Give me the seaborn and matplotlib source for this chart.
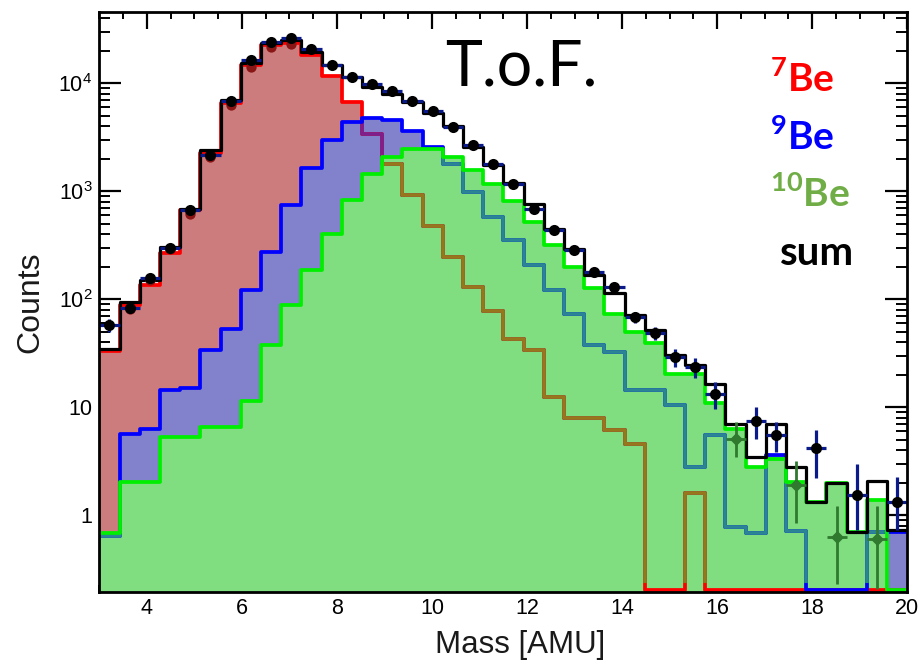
import numpy as np
import matplotlib
matplotlib.use("Agg")
import matplotlib.pyplot as plt
import seaborn as sns
from matplotlib.ticker import FixedLocator, FixedFormatter, MultipleLocator, LogLocator, NullFormatter

# ---------------- data ----------------
x_lo, x_hi, n_bins = 3.0, 20.0, 40

be7 = [33, 88, 135, 268, 667, 2260, 6620, 14700, 22500, 23800,
       18200, 11700, 6720, 3420, 1780, 918, 474, 246, 130, 78,
       43, 33.7, 12.5, 7.9, 7.9, 6.2, 4.6, 0, 0, 1.6,
       0, 0, 0, 0, 0, 0, 0, 0, 0, 0]
be9 = [0.65, 5.7, 6.3, 14.4, 15, 33.7, 53.5, 121, 274, 741,
       1650, 2970, 4385, 4810, 4540, 3600, 2570, 1800, 985, 578,
       352, 206, 121, 73.7, 37.5, 32.5, 14.4, 14.4, 10.6, 2.8,
       5.5, 0.78, 0.69, 3.6, 0.72, 0, 0, 0, 0.70, 0.70]
be10 = [0.68, 2.03, 2.03, 5.3, 5.3, 6.6, 6.6, 11.4, 38, 88,
        186, 405, 826, 1460, 2080, 2480, 2480, 2080, 1560, 1180,
        810, 520, 316, 199, 126, 73.7, 49.8, 39, 20.5, 20.5,
        11, 6.35, 2.8, 3.35, 2.03, 1.33, 1.99, 0.70, 1.38, 0]
total = [35, 94, 150, 305, 690, 2400, 7060, 15500, 23800, 25000,
         19600, 14700, 11450, 9200, 8000, 6720, 5360, 4000, 2570, 1740,
         1200, 769, 451, 295, 167, 114, 71, 51.6, 30.3, 24.5,
         16.6, 6.96, 3.47, 6.96, 2.8, 1.33, 1.99, 0.70, 2.08, 0.73]

nan = np.nan
data = [58, 83, 158, 300, 676, 2150, 6900, 16300, 24200, 26200,
        20800, 14900, 11400, 9750, 8400, 6900, 5500, 3930, 2670, 1780,
        1180, 690, 442, 285, 179, 130, 68.6, 48.7, 29.2, 23.6,
        13.4, nan, 7.5, 5.6, nan, 4.2, nan, 1.53, nan, 1.33]
data_err_lo = [8, 9, 13, 17, 26, 46, 83, 128, 156, 162,
               144, 122, 107, 99, 92, 83, 74, 63, 52, 42,
               34, 26, 21, 17, 13, 11, 8.3, 7, 5.4, 4.9,
               3.7, nan, 2.4, 1.75, nan, 2.0, nan, 0.8, nan, 0.6]
data_err_hi = [8, 9, 13, 17, 26, 46, 83, 128, 156, 162,
               144, 122, 107, 99, 92, 83, 74, 63, 52, 42,
               34, 26, 21, 17, 13, 11, 8.3, 7, 5.4, 4.9,
               3.7, nan, 2.6, 1.7, nan, 1.9, nan, 1.47, nan, 0.93]

# 7Be data points (mostly hidden beneath the black points)
be7_data_bins = [1, 2, 3, 4, 5, 6, 7, 8, 9]
be7_data = [82, 150, 290, 620, 2080, 6320, 14300, 21800, 23100]
# 10Be data points visible at the high-mass end
be10_data_bins = [31, 34, 36, 38]
be10_data = [5.1, 1.9, 0.63, 0.61]
be10_err_lo = [1.65, 1.06, 0.40, 0.40]
be10_err_hi = [2.2, 1.3, 0.60, 0.60]

yticks = [1, 10, 100, 1000, 10000]
ytick_labels = ["1", "10", r"$\mathregular{10^{2}}$", r"$\mathregular{10^{3}}$", r"$\mathregular{10^{4}}$"]
xticks = [4, 6, 8, 10, 12, 14, 16, 18, 20]
xtick_labels = ["4", "6", "8", "10", "12", "14", "16", "18", "20"]

iso_mass = ["7", "9", "10"]
iso_colors = ["#ff0000", "#0000ff", "#70ad47"]

# ---------------- style ----------------
sns.set_style("ticks")
plt.rcParams["font.family"] = ["Liberation Sans", "DejaVu Sans"]
plt.rcParams["mathtext.fontset"] = "custom"
plt.rcParams["mathtext.rm"] = "Lato"
plt.rcParams["mathtext.bf"] = "Lato:bold"
plt.rcParams["text.color"] = "black"
plt.rcParams["axes.labelcolor"] = "black"
plt.rcParams["xtick.color"] = "black"
plt.rcParams["ytick.color"] = "black"

Y_MIN, Y_MAX = 0.195, 46000
RED, BLUE, GREEN = "#ff0000", "#0000ff", "#00ee00"
RED_FILL, BLUE_FILL, GREEN_FILL = "#cc7c7c", "#8282cc", "#80de80"
OLIVE, TEAL, PURPLE = "#97771c", "#2a8494", "#7d1f8c"
NAVY, DKGREEN, DKRED = "#0a1a8a", "#2f7a2f", "#8a1515"
LW = 2.7

edges = np.linspace(x_lo, x_hi, n_bins + 1)
centers = 0.5 * (edges[:-1] + edges[1:])
half_w = 0.5 * (edges[1] - edges[0])
bin_list = [float(e) for e in edges]

fig = plt.figure(figsize=(9.23, 6.65), dpi=100)
L, R, T, B = 99.3, 907.3, 11.7, 592.0
ax = fig.add_axes([L / 923, 1 - B / 665, (R - L) / 923, (B - T) / 665])
ax.set_yscale("log")

floor = Y_MIN * 1.045


def lifted(v):
    v = np.asarray(v, dtype=float)
    return np.where(v > 0, v, floor)


def hist(vals, **kw):
    sns.histplot(x=centers, weights=lifted(vals), bins=bin_list, element="step",
                 ax=ax, legend=False, **kw)


def clip_region(vals):
    base = Y_MIN * 1.2
    top = lifted(vals)
    top = np.maximum(np.append(top, top[-1]), base)
    poly = ax.fill_between(edges, base, top, step="post", alpha=0, linewidth=0)
    return poly.get_paths()[0]


# fills (opaque, in drawing order)
hist(be7, fill=True, color=RED_FILL, alpha=1, linewidth=0, zorder=1.0)
hist(be9, fill=True, color=BLUE_FILL, alpha=1, linewidth=0, zorder=1.1)
hist(be10, fill=True, color=GREEN_FILL, alpha=1, linewidth=0, zorder=1.2)

blue_region = clip_region(be9)
green_region = clip_region(be10)

# 7Be outline: red where free, purple through the 9Be fill, olive through the 10Be fill
hist(be7, fill=False, color=RED, lw=LW, zorder=1.5)
hist(be7, fill=False, color=PURPLE, lw=LW, zorder=1.55)
ax.lines[-1].set_clip_path(blue_region, ax.transData)
hist(be7, fill=False, color=OLIVE, lw=LW, zorder=1.6)
ax.lines[-1].set_clip_path(green_region, ax.transData)
# 9Be outline
hist(be9, fill=False, color=BLUE, lw=LW, zorder=1.7)
hist(be9, fill=False, color=TEAL, lw=LW, zorder=1.75)
ax.lines[-1].set_clip_path(green_region, ax.transData)
# 10Be outline
hist(be10, fill=False, color=GREEN, lw=LW, zorder=1.8)
# sum
hist(total, fill=False, color="black", lw=2.3, zorder=1.9)

# data points
c_arr = np.asarray(centers)
ax.errorbar(c_arr, data, xerr=half_w, yerr=[data_err_lo, data_err_hi], fmt="none",
            ecolor=NAVY, elinewidth=2.3, capsize=0, zorder=3)
sns.scatterplot(x=c_arr[be7_data_bins], y=be7_data, color=DKRED, s=55, linewidth=0,
                marker="o", ax=ax, zorder=2.9, legend=False)
ax.errorbar(c_arr[be10_data_bins], be10_data, xerr=half_w, yerr=[be10_err_lo, be10_err_hi],
            fmt="none", ecolor=DKGREEN, elinewidth=2.0, capsize=0, zorder=3.1)
sns.scatterplot(x=c_arr[be10_data_bins], y=be10_data, color=DKGREEN, s=45, linewidth=0,
                marker="D", ax=ax, zorder=3.2, legend=False)
sns.scatterplot(x=c_arr, y=data, color="black", s=64, linewidth=0, marker="o",
                ax=ax, zorder=3.5, legend=False)

# axes
ax.set_xlim(x_lo, x_hi)
ax.set_ylim(Y_MIN, Y_MAX)
ax.yaxis.set_major_locator(FixedLocator(yticks))
ax.yaxis.set_major_formatter(FixedFormatter(ytick_labels))
ax.yaxis.set_minor_locator(LogLocator(base=10, subs=np.arange(2, 10)))
ax.yaxis.set_minor_formatter(NullFormatter())
ax.xaxis.set_major_locator(FixedLocator(xticks))
ax.xaxis.set_major_formatter(FixedFormatter(xtick_labels))
ax.xaxis.set_minor_locator(MultipleLocator(0.5))

ax.tick_params(axis="y", which="major", direction="in", length=15.5, width=1.6,
               left=True, right=True, labelsize=15.5, pad=5, colors="black")
ax.tick_params(axis="y", which="minor", direction="in", length=8, width=1.4,
               left=True, right=True, colors="black")
ax.tick_params(axis="x", which="major", direction="in", length=12, width=1.6,
               top=True, bottom=True, labelsize=15.5, pad=4, colors="black")
ax.tick_params(axis="x", which="minor", direction="in", length=5, width=1.4,
               top=True, bottom=True, colors="black")
for s in ax.spines.values():
    s.set_linewidth(2.0)
    s.set_color("black")
    s.set_zorder(5)

ax.set_xlabel("Mass [AMU]", fontsize=22.5, va="center", color="#1a1a1a")
ax.xaxis.set_label_coords((520 - L) / (R - L), -(645 - B) / (B - T))
ax.set_ylabel("Counts", fontsize=23, va="center", color="#1a1a1a")
ax.yaxis.set_label_coords((30 - L) / (R - L), 0.5)

# annotation texts
def ax_xy(px, py):
    return (px - L) / (R - L), (B - py) / (B - T)

ax.text(*ax_xy(445, 85), "T.o.F.", transform=ax.transAxes, fontsize=45,
        family="Lato", ha="left", va="baseline", color="black", zorder=6)
for (m, col, py) in zip(iso_mass, iso_colors, [92, 150, 207]):
    ax.text(*ax_xy(770, py), r"$^{\mathbf{" + m + r"}}$Be", transform=ax.transAxes,
            fontsize=28, family="Lato", fontweight="bold", color=col,
            ha="left", va="baseline", zorder=6)
ax.text(*ax_xy(780, 265), "sum", transform=ax.transAxes, fontsize=29, family="Lato",
        fontweight="bold", color="black", ha="left", va="baseline", zorder=6)

fig.savefig("out.png", dpi=100)
